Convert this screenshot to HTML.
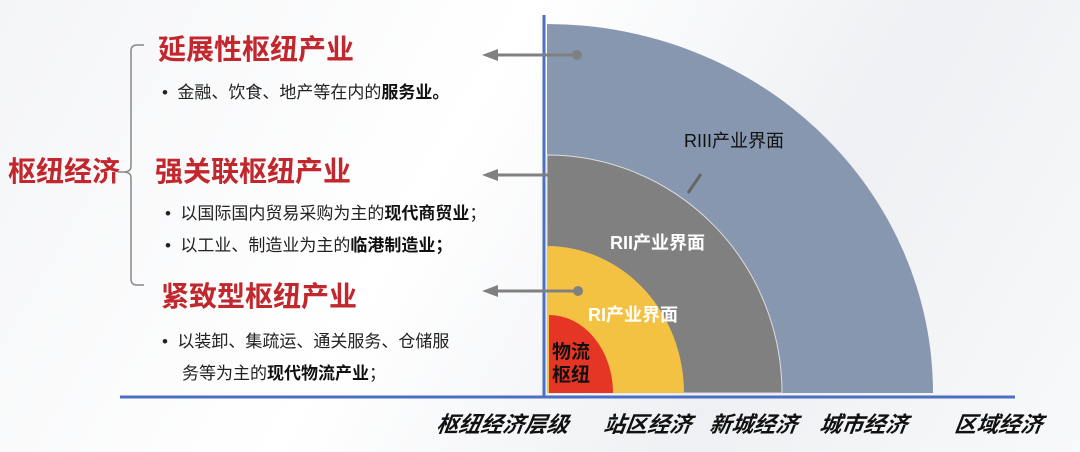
<!DOCTYPE html>
<html><head><meta charset="utf-8"><style>
body{margin:0;width:1080px;height:452px;overflow:hidden;background:linear-gradient(120deg,#f4f5f7 0%,#ffffff 40%,#eef0f3 70%,#f8f9fa 100%);font-family:"Liberation Sans","Noto Sans CJK SC",sans-serif;position:relative}
.t{position:absolute;white-space:nowrap}
.h{color:#c1272d;font-weight:bold;font-size:28px;line-height:32px}
.b{font-size:17px;color:#222;line-height:22px}
.b b{color:#111}
.ax{font-size:22px;font-weight:bold;font-style:italic;color:#111;transform:skewX(-8deg);transform-origin:left}
</style></head><body>
<svg width="1080" height="452" style="position:absolute;left:0;top:0">
<path d="M547 393 L547 24 A386 369 0 0 1 933 393 Z" fill="#8797b0"/>
<path d="M547 393 L547 155 A235 238 0 0 1 782 393 Z" fill="#808080" stroke="#ddd" stroke-width="1"/>
<path d="M547 393 L547 246 A137 147 0 0 1 684 393 Z" fill="#f4c242"/>
<path d="M549 393 L549 315 A64 78 0 0 1 613 393 Z" fill="#e53524"/>
<line x1="544" y1="15" x2="544" y2="396" stroke="#4a6fc4" stroke-width="3"/>
<line x1="120" y1="397" x2="1015" y2="397" stroke="#4a6fc4" stroke-width="3"/>
<line x1="496" y1="55" x2="577" y2="55" stroke="#808080" stroke-width="3"/>
<circle cx="577" cy="55" r="5" fill="#808080"/>
<polygon points="482,55 498,49 498,61" fill="#808080"/>
<line x1="496" y1="175" x2="548" y2="175" stroke="#808080" stroke-width="3"/>
<polygon points="482,175 498,169 498,181" fill="#808080"/>
<line x1="496" y1="291" x2="578" y2="291" stroke="#808080" stroke-width="3"/>
<circle cx="578" cy="291" r="5" fill="#808080"/>
<polygon points="482,291 498,285 498,297" fill="#808080"/>
<line x1="688" y1="193" x2="701" y2="174" stroke="#666" stroke-width="3"/>
<path d="M144 45 L137 45 Q131 45 131 51 L131 166 Q131 172 124 172 L118 172 M124 172 Q131 172 131 178 L131 279 Q131 285 137 285 L144 285" fill="none" stroke="#888" stroke-width="1.5"/>
</svg>
<div class="t h" style="left:158px;top:34px">延展性枢纽产业</div>
<div class="t h" style="left:155px;top:156px">强关联枢纽产业</div>
<div class="t h" style="left:161px;top:281px">紧致型枢纽产业</div>
<div class="t h" style="left:8px;top:156px">枢纽经济</div>
<div class="t b" style="left:162px;top:82px">•&nbsp; 金融、饮食、地产等在内的<b>服务业。</b></div>
<div class="t b" style="left:165px;top:203px">•&nbsp; 以国际国内贸易采购为主的<b>现代商贸业</b>；</div>
<div class="t b" style="left:165px;top:235px">•&nbsp; 以工业、制造业为主的<b>临港制造业；</b></div>
<div class="t b" style="left:162px;top:331px">•&nbsp; 以装卸、集疏运、通关服务、仓储服</div>
<div class="t b" style="left:182px;top:363px">务等为主的<b>现代物流产业</b>；</div>
<div class="t" style="left:684px;top:127px;font-size:18px;color:#111">RIII产业界面</div>
<div class="t" style="left:610px;top:229px;font-size:18px;color:#fff;font-weight:bold">RII产业界面</div>
<div class="t" style="left:588px;top:301px;font-size:18px;color:#fff;font-weight:bold">RI产业界面</div>
<div class="t" style="left:552px;top:341px;font-size:19px;font-weight:bold;color:#111;line-height:23px">物流<br>枢纽</div>
<div class="t ax" style="left:437px;top:407px">枢纽经济层级</div>
<div class="t ax" style="left:604px;top:407px">站区经济</div>
<div class="t ax" style="left:710px;top:407px">新城经济</div>
<div class="t ax" style="left:820px;top:407px">城市经济</div>
<div class="t ax" style="left:955px;top:407px">区域经济</div>
</body></html>
